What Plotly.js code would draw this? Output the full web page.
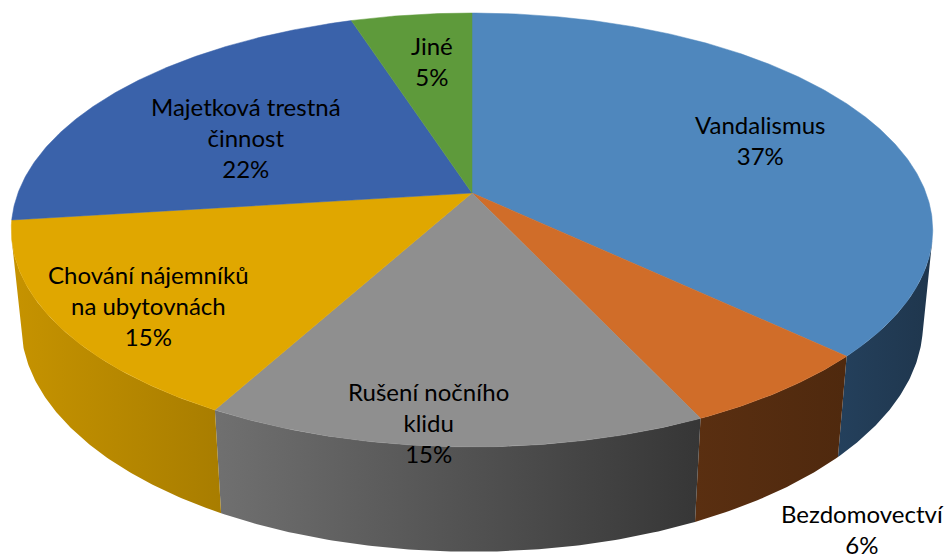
<!DOCTYPE html>
<html>
<head>
<meta charset="utf-8">
<script src="https://cdn.plot.ly/plotly-3.0.1.min.js"></script>
<style>html,body{margin:0;padding:0;background:#fff;}#chart{width:949px;height:558px;}</style>
</head>
<body>
<div id="chart"></div>
<script>
// ---- data ----
const categories = ['Vandalismus', 'Bezdomovectví', 'Rušení nočního klidu', 'Chování nájemníků na ubytovnách', 'Majetková trestná činnost', 'Jiné'];
const values = [37, 6, 15, 15, 22, 5];
const labelNames = ['Vandalismus', 'Bezdomovectví', 'Rušení nočního<br>klidu', 'Chování nájemníků<br>na ubytovnách', 'Majetková trestná<br>činnost', 'Jiné'];

// ---- styles ----
const topColors = ['#4F87BD', '#D06D29', '#8F8F8F', '#E0A700', '#3A62AA', '#5E9A3B'];
const wallColors = [['#24405C', '#1F364D'], ['#5A2F11', '#4F290E'], ['#707070', '#363636'], ['#C69300', '#A87D00'], ['#2A4780', '#223A68'], ['#44702A', '#3A6024']];
const labelPos = [[760, 140], [862, 529], [428, 422], [148, 305], [246, 137], [432, 61]];

// ---- projection of a tilted 3D disk ----
const K = 454, cx = 472, cy = 193, sa = 0.464, ca = Math.sqrt(1 - sa * sa), f = 5.2, T = 0.235;
function proj(theta, r, Y) {
  const X = r * Math.sin(theta), Z = r * Math.cos(theta);
  const yup = Y * ca + Z * sa, d = Z * ca - Y * sa, s = f / (f + d);
  return [cx + K * X * s, cy - K * yup * s];
}
function arc(a0, a1, Y) {
  const n = Math.max(2, Math.ceil(Math.abs(a1 - a0) / (Math.PI / 360)));
  const pts = [];
  for (let i = 0; i <= n; i++) pts.push(proj(a0 + (a1 - a0) * i / n, 1, Y));
  return pts;
}
const total = values.reduce((a, b) => a + b, 0);
const tanCos = -1 / (f * ca);
const tR = Math.acos(tanCos), tL = 2 * Math.PI - tR;

const wallTraces = [], topTraces = [], annotations = [];
let acc = 0;
values.forEach((v, i) => {
  const a0 = acc / total * 2 * Math.PI;
  acc += v;
  const a1 = acc / total * 2 * Math.PI;
  // visible outer wall
  const w0 = Math.max(a0, tR), w1 = Math.min(a1, tL);
  if (w1 > w0) {
    const pts = arc(w0, w1, 0).concat(arc(w1, w0, -T));
    pts.push(pts[0]);
    wallTraces.push({
      type: 'scatter', mode: 'lines', x: pts.map(p => p[0]), y: pts.map(p => p[1]),
      fill: 'toself', line: {width: 0, color: wallColors[i][0]},
      fillcolor: wallColors[i][0],
      fillgradient: {type: 'horizontal', colorscale: [[0, wallColors[i][0]], [1, wallColors[i][1]]]},
      hoverinfo: 'skip', showlegend: false
    });
  }
  // top face
  const c = proj(0, 0, 0);
  const tp = [c].concat(arc(a0, a1, 0));
  tp.push(c);
  topTraces.push({
    type: 'scatter', mode: 'lines', x: tp.map(p => p[0]), y: tp.map(p => p[1]),
    fill: 'toself', fillcolor: topColors[i], line: {width: 0.5, color: topColors[i]},
    name: categories[i], hoverinfo: 'name', showlegend: false
  });
  annotations.push({
    x: labelPos[i][0], y: labelPos[i][1], xref: 'x', yref: 'y',
    text: labelNames[i] + '<br>' + Math.round(v / total * 100) + '%',
    showarrow: false, align: 'center', xanchor: 'center', yanchor: 'middle',
    font: {family: 'Lato, sans-serif', size: 24, color: '#000000'}
  });
});

const layout = {
  width: 949, height: 558,
  margin: {l: 0, r: 0, t: 0, b: 0},
  paper_bgcolor: '#ffffff', plot_bgcolor: '#ffffff',
  xaxis: {range: [0, 949], visible: false, fixedrange: true},
  yaxis: {range: [558, 0], visible: false, fixedrange: true},
  annotations: annotations,
  showlegend: false
};
Plotly.newPlot('chart', wallTraces.concat(topTraces), layout, {displayModeBar: false, staticPlot: true});
</script>
</body>
</html>
